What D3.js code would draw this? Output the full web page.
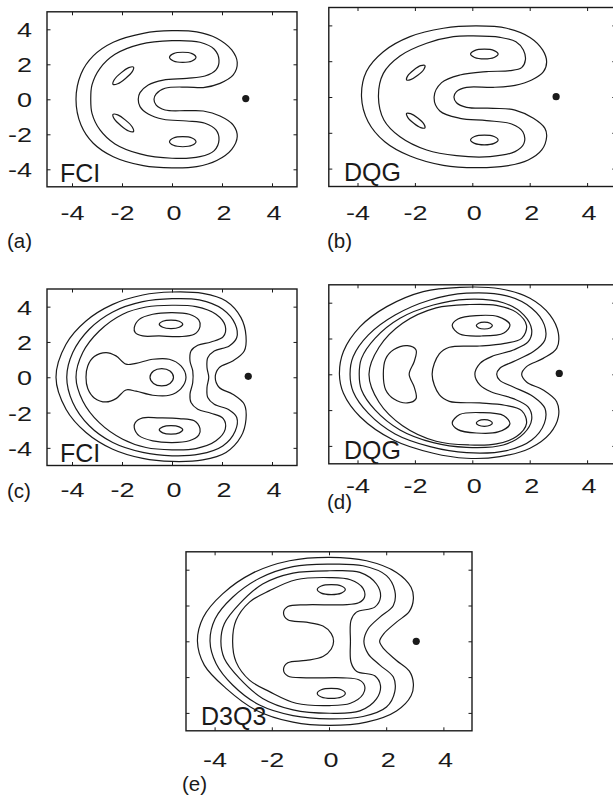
<!DOCTYPE html>
<html>
<head>
<meta charset="utf-8">
<script src="https://cdn.jsdelivr.net/npm/d3@7"></script>
<style>
    body { margin: 0; background: #fff; }
    svg { display: block; }
</style>
</head>
<body>
<svg id="chart"></svg>
<script>
const tick_values = [-4, -2, 0, 2, 4]
const axis_domain = [-5, 5]

// (a) FCI, contour lines (data units)
const a_outer = [[0,3.92],[0.99,3.85],[1.79,3.49],[2.39,2.82],[2.61,2.10],[2.45,1.39],[1.92,0.91],[1.25,0.67],[0.59,0.70],[-0.28,0.63],[-0.64,0.30],[-0.72,0],[-0.64,-0.32],[-0.28,-0.61],[0.59,-0.65],[1.25,-0.67],[1.92,-0.95],[2.45,-1.47],[2.61,-2.13],[2.39,-2.86],[1.79,-3.50],[0.99,-3.85],[0,-3.92],[-1.15,-3.79],[-2.35,-3.28],[-3.15,-2.51],[-3.64,-1.47],[-3.84,0],[-3.64,1.45],[-3.15,2.48],[-2.35,3.26],[-1.15,3.77]]
const a_middle = [[0,3.35],[1.12,3.26],[1.69,2.86],[1.88,2.25],[1.76,1.68],[1.32,1.33],[0.59,1.20],[-0.35,1.10],[-0.95,0.82],[-1.28,0.38],[-1.35,0],[-1.28,-0.42],[-0.95,-0.84],[-0.35,-1.14],[0.59,-1.24],[1.32,-1.37],[1.76,-1.75],[1.88,-2.32],[1.69,-2.93],[1.12,-3.28],[0,-3.37],[-1.28,-3.12],[-2.28,-2.55],[-2.88,-1.75],[-3.20,-0.80],[-3.25,0],[-3.20,0.82],[-2.88,1.77],[-2.28,2.57],[-1.28,3.14]]
const a_peak_ne = [[0.96,2.40],[0.80,2.61],[0.43,2.69],[0.06,2.61],[-0.10,2.40],[0.06,2.19],[0.43,2.11],[0.80,2.19]]
const a_peak_se = [[0.96,-2.42],[0.80,-2.21],[0.43,-2.13],[0.06,-2.21],[-0.10,-2.42],[0.06,-2.63],[0.43,-2.71],[0.80,-2.63]]
const a_peak_nw = [[-1.54,1.84],[-1.59,1.58],[-1.86,1.19],[-2.17,0.89],[-2.36,0.86],[-2.31,1.12],[-2.04,1.51],[-1.73,1.81]]
const a_peak_sw = [[-1.54,-1.84],[-1.59,-1.58],[-1.86,-1.19],[-2.17,-0.89],[-2.36,-0.86],[-2.31,-1.12],[-2.04,-1.51],[-1.73,-1.81]]
const a_dot = [2.95, 0.04]

// (b) DQG
const b_outer = [[0.15,3.97],[1.20,3.84],[2.01,3.33],[2.45,2.63],[2.59,1.97],[2.48,1.42],[2.07,0.95],[1.49,0.65],[0.73,0.54],[-0.20,0.54],[-0.55,0.30],[-0.64,0],[-0.55,-0.32],[-0.20,-0.58],[0.73,-0.63],[1.49,-0.73],[2.13,-1.19],[2.53,-1.75],[2.59,-2.22],[2.42,-2.96],[1.95,-3.52],[1.20,-3.85],[0.15,-3.95],[-1.01,-3.82],[-2.17,-3.30],[-3.05,-2.50],[-3.63,-1.38],[-3.86,0],[-3.69,1.42],[-3.10,2.53],[-2.17,3.37],[-1.01,3.84]]
const b_middle = [[0.03,3.41],[0.97,3.33],[1.52,3.09],[1.78,2.63],[1.85,2.07],[1.72,1.64],[1.31,1.47],[0.50,1.42],[-0.43,1.23],[-1.07,0.80],[-1.33,0],[-1.13,-0.78],[-0.43,-1.19],[0.50,-1.32],[1.37,-1.51],[1.76,-1.94],[1.80,-2.59],[1.49,-3.05],[0.62,-3.33],[-0.55,-3.28],[-1.59,-2.96],[-2.52,-2.22],[-3.08,-1.28],[-3.27,0],[-3.10,1.32],[-2.52,2.29],[-1.59,3.00],[-0.66,3.37]]
const b_peak_ne = [[0.90,2.40],[0.76,2.59],[0.42,2.67],[0.08,2.59],[-0.06,2.40],[0.08,2.21],[0.42,2.13],[0.76,2.21]]
const b_peak_se = [[0.90,-2.40],[0.76,-2.21],[0.42,-2.13],[0.08,-2.21],[-0.06,-2.40],[0.08,-2.59],[0.42,-2.67],[0.76,-2.59]]
const b_peak_nw = [[-1.65,1.76],[-1.69,1.54],[-1.90,1.21],[-2.15,0.97],[-2.29,0.96],[-2.25,1.18],[-2.04,1.51],[-1.80,1.75]]
const b_peak_sw = [[-1.65,-1.72],[-1.69,-1.50],[-1.90,-1.17],[-2.15,-0.93],[-2.29,-0.92],[-2.25,-1.14],[-2.04,-1.47],[-1.80,-1.71]]
const b_dot = [2.92, 0.02]

// (c) FCI
const c_level1 = [[0,4.83],[1.23,4.75],[2.16,4.32],[2.76,3.38],[2.96,2.34],[2.89,1.49],[2.43,0.92],[1.89,0.55],[1.73,0],[1.89,-0.58],[2.43,-0.96],[2.89,-1.53],[2.96,-2.38],[2.76,-3.36],[2.16,-4.26],[1.23,-4.68],[0,-4.77],[-1.17,-4.60],[-2.37,-4.08],[-3.44,-3.13],[-4.24,-1.81],[-4.64,0],[-4.24,1.87],[-3.44,3.19],[-2.37,4.13],[-1.17,4.66]]
const c_level2 = [[0,4.45],[1.09,4.38],[2.03,3.85],[2.53,3.00],[2.59,2.25],[2.29,1.77],[1.69,1.49],[1.43,1.11],[1.40,0.55],[1.47,0],[1.40,-0.58],[1.43,-1.15],[1.69,-1.53],[2.29,-1.85],[2.59,-2.28],[2.53,-3.04],[2.03,-3.89],[1.09,-4.36],[0,-4.45],[-1.17,-4.26],[-2.37,-3.70],[-3.31,-2.75],[-3.97,-1.43],[-4.21,0],[-3.97,1.40],[-3.31,2.72],[-2.37,3.70],[-1.17,4.28]]
const c_level3 = [[0,4.08],[0.96,4.00],[1.76,3.57],[2.13,2.91],[2.05,2.30],[1.56,2.00],[1.03,1.81],[0.76,1.49],[0.72,0.92],[0.83,0.36],[0.83,-0.30],[0.72,-0.96],[0.76,-1.43],[1.03,-1.81],[1.56,-2.04],[2.05,-2.34],[2.13,-2.94],[1.76,-3.60],[0.96,-4.04],[0,-4.11],[-1.04,-3.98],[-1.97,-3.51],[-2.91,-2.57],[-3.57,-1.34],[-3.84,0],[-3.57,1.40],[-2.91,2.62],[-1.97,3.57],[-1.04,3.98]]
const c_top = [[-1.51,2.81],[-1.31,3.28],[-0.77,3.57],[0,3.66],[0.69,3.57],[1.07,3.25],[1.12,2.87],[0.89,2.43],[0.29,2.30],[-0.51,2.34],[-1.17,2.34],[-1.47,2.53]]
const c_bottom = [[-1.51,-2.85],[-1.31,-3.32],[-0.77,-3.60],[0,-3.70],[0.69,-3.60],[1.07,-3.28],[1.12,-2.91],[0.89,-2.47],[0.29,-2.34],[-0.51,-2.30],[-1.17,-2.30],[-1.47,-2.57]]
const c_centre = [[-3.44,0],[-3.37,0.64],[-3.11,1.17],[-2.64,1.40],[-2.24,1.21],[-1.84,0.74],[-1.44,0.79],[-0.77,1.02],[-0.11,1.02],[0.36,0.64],[0.56,0],[0.36,-0.64],[-0.11,-1.02],[-0.77,-1.02],[-1.44,-0.79],[-1.84,-0.72],[-2.24,-1.21],[-2.64,-1.40],[-3.11,-1.17],[-3.37,-0.64]]
const c_peak_top = [[0.43,3.00],[0.29,3.17],[-0.04,3.24],[-0.37,3.17],[-0.51,3.00],[-0.37,2.83],[-0.04,2.76],[0.29,2.83]]
const c_peak_bottom = [[0.43,-2.98],[0.29,-2.81],[-0.04,-2.74],[-0.37,-2.81],[-0.51,-2.98],[-0.37,-3.15],[-0.04,-3.22],[0.29,-3.15]]
const c_peak_centre = [[0.06,0],[-0.08,0.35],[-0.41,0.49],[-0.74,0.35],[-0.88,0],[-0.74,-0.35],[-0.41,-0.49],[-0.08,-0.35]]
const c_dot = [3.05, 0.05]

// (d) DQG
const d_level1 = [[-0.43,4.86],[0.96,4.78],[2.01,4.25],[2.71,3.31],[3.00,2.29],[2.94,1.45],[2.47,0.89],[1.89,0.43],[1.72,0],[1.89,-0.43],[2.47,-0.88],[2.94,-1.53],[3.00,-2.37],[2.71,-3.30],[2.01,-4.13],[0.96,-4.60],[-0.20,-4.69],[-1.36,-4.41],[-2.75,-3.67],[-3.91,-2.37],[-4.49,-1.06],[-4.63,0],[-4.49,1.27],[-3.91,2.66],[-2.98,3.78],[-1.71,4.62]]
const d_level2 = [[-0.20,4.53],[1.20,4.38],[2.07,3.69],[2.51,2.76],[2.53,1.92],[2.13,1.27],[1.43,0.71],[0.96,0.34],[0.85,0],[0.96,-0.34],[1.43,-0.71],[2.13,-1.25],[2.53,-1.90],[2.51,-2.74],[2.07,-3.67],[1.20,-4.26],[-0.20,-4.38],[-1.47,-4.04],[-2.69,-3.33],[-3.62,-2.18],[-4.15,-0.97],[-4.26,0],[-4.15,0.99],[-3.62,2.20],[-2.69,3.31],[-1.47,4.15]]
const d_level3 = [[-0.20,4.19],[1.08,4.00],[1.80,3.31],[2.07,2.48],[1.95,1.82],[1.43,1.36],[0.67,0.99],[0.27,0.61],[0.09,0],[0.27,-0.61],[0.67,-0.99],[1.43,-1.36],[1.95,-1.84],[2.07,-2.51],[1.80,-3.30],[1.08,-3.95],[-0.20,-4.08],[-1.36,-3.82],[-2.52,-3.11],[-3.39,-1.99],[-3.86,-0.88],[-3.94,0],[-3.86,0.89],[-3.39,2.01],[-2.52,3.13],[-1.36,3.87]]
const d_level4 = [[-0.09,3.90],[0.84,3.85],[1.54,3.46],[1.89,2.72],[1.72,2.01],[1.13,1.73],[0.26,1.58],[-0.80,1.51],[-1.15,1.14],[-1.40,0],[-1.15,-1.14],[-0.80,-1.51],[0.26,-1.60],[1.13,-1.73],[1.72,-2.03],[1.89,-2.74],[1.54,-3.48],[0.84,-3.89],[-0.09,-3.95],[-1.26,-3.74],[-2.43,-2.87],[-3.25,-1.56],[-3.60,0],[-3.25,1.51],[-2.43,2.85],[-1.26,3.71]]
const d_top = [[-0.70,2.72],[-0.50,3.09],[0.14,3.28],[0.90,3.22],[1.31,2.77],[1.10,2.31],[0.32,2.14],[-0.44,2.25]]
const d_bottom = [[-0.70,-2.72],[-0.50,-3.09],[0.14,-3.28],[0.90,-3.22],[1.31,-2.77],[1.10,-2.31],[0.32,-2.14],[-0.44,-2.25]]
const d_left = [[-3.10,0],[-3.02,0.86],[-2.73,1.38],[-2.26,1.60],[-1.96,1.36],[-2.02,0.73],[-2.20,0],[-2.02,-0.73],[-1.96,-1.36],[-2.26,-1.60],[-2.73,-1.38],[-3.02,-0.86]]
const d_peak_top = [[0.70,2.72],[0.62,2.85],[0.42,2.91],[0.22,2.85],[0.14,2.72],[0.22,2.59],[0.42,2.53],[0.62,2.59]]
const d_peak_bottom = [[0.70,-2.72],[0.62,-2.59],[0.42,-2.53],[0.22,-2.59],[0.14,-2.72],[0.22,-2.85],[0.42,-2.91],[0.62,-2.85]]
const d_dot = [3.03, 0.05]

// (e) D3Q3
const e_level1 = [[0.02,4.69],[1.31,4.50],[2.36,3.85],[2.87,3.02],[2.95,2.37],[2.81,1.67],[2.36,1.07],[1.92,0.43],[1.77,0],[1.92,-0.43],[2.36,-1.07],[2.81,-1.67],[2.95,-2.37],[2.87,-3.04],[2.36,-3.89],[1.31,-4.52],[0.02,-4.70],[-1.26,-4.52],[-2.55,-3.85],[-3.60,-2.63],[-4.36,-1.33],[-4.60,0],[-4.40,1.33],[-3.72,2.65],[-2.67,3.81],[-1.38,4.50]]
const e_level2 = [[0.02,4.31],[1.19,4.22],[2.01,3.67],[2.30,2.83],[2.25,2.00],[1.78,1.35],[1.37,0.70],[1.22,0],[1.37,-0.70],[1.78,-1.33],[2.25,-2.00],[2.30,-2.81],[2.01,-3.67],[1.19,-4.20],[0.02,-4.33],[-1.26,-4.15],[-2.43,-3.56],[-3.37,-2.44],[-3.95,-1.24],[-4.16,0],[-3.98,1.26],[-3.37,2.46],[-2.43,3.52],[-1.26,4.17]]
const e_level3 = [[0.02,3.94],[1.08,3.85],[1.66,3.20],[1.80,2.46],[1.60,1.91],[0.96,1.63],[0.77,1.17],[0.75,0],[0.77,-1.17],[0.96,-1.67],[1.60,-1.93],[1.80,-2.48],[1.66,-3.22],[1.08,-3.89],[0.02,-4.02],[-1.26,-3.83],[-2.32,-3.19],[-3.13,-2.07],[-3.66,-0.96],[-3.78,0],[-3.66,0.98],[-3.13,2.09],[-2.32,3.20],[-1.26,3.81]]
const e_level4 = [[0.02,3.56],[0.75,3.44],[1.19,2.96],[1.24,2.46],[1.04,2.15],[0.49,2.04],[-0.80,2.04],[-1.44,1.94],[-1.59,1.59],[-1.44,1.20],[-0.80,1.07],[-0.21,0.85],[0.08,0.43],[0.16,0],[0.08,-0.43],[-0.21,-0.85],[-0.80,-1.07],[-1.44,-1.20],[-1.59,-1.59],[-1.44,-1.94],[-0.80,-2.04],[0.49,-2.04],[1.04,-2.15],[1.24,-2.46],[1.19,-2.96],[0.75,-3.46],[0.02,-3.59],[-1.15,-3.46],[-2.08,-2.81],[-2.78,-2.17],[-3.25,-1.15],[-3.37,0],[-3.25,1.17],[-2.78,2.19],[-2.08,2.83],[-1.15,3.44]]
const e_peak_top = [[0.57,2.89],[0.43,3.09],[0.08,3.17],[-0.27,3.09],[-0.41,2.89],[-0.27,2.69],[0.08,2.61],[0.43,2.69]]
const e_peak_bottom = [[0.57,-2.91],[0.43,-2.71],[0.08,-2.63],[-0.27,-2.71],[-0.41,-2.91],[-0.27,-3.11],[0.08,-3.19],[0.43,-3.11]]
const e_dot = [3.05, 0.0]

// panel layout (pixel frames and label spots)
const panels = [
    { tag: "(a)", method: "FCI", dot: a_dot, y_labels: true,
      contours: [a_outer, a_middle, a_peak_ne, a_peak_se, a_peak_nw, a_peak_sw],
      box: [47, 297, 11.8, 186.8], tick_base: 220.5, tag_at: [7, 247.5], method_at: [60, 182] },
    { tag: "(b)", method: "DQG", dot: b_dot, y_labels: false,
      contours: [b_outer, b_middle, b_peak_ne, b_peak_se, b_peak_nw, b_peak_sw],
      box: [328.8, 615.8, 7.5, 186.5], tick_base: 220.5, tag_at: [327, 247.5], method_at: [344, 180.5] },
    { tag: "(c)", method: "FCI", dot: c_dot, y_labels: true,
      contours: [c_level1, c_level2, c_level3, c_top, c_bottom, c_centre, c_peak_top, c_peak_bottom, c_peak_centre],
      box: [47, 297, 289, 465.5], tick_base: 497, tag_at: [7, 497.5], method_at: [60, 461.5] },
    { tag: "(d)", method: "DQG", dot: d_dot, y_labels: false,
      contours: [d_level1, d_level2, d_level3, d_level4, d_top, d_bottom, d_left, d_peak_top, d_peak_bottom],
      box: [328.8, 615.8, 284.8, 463.8], tick_base: 493, tag_at: [327, 509], method_at: [344, 459] },
    { tag: "(e)", method: "D3Q3", dot: e_dot, y_labels: false,
      contours: [e_level1, e_level2, e_level3, e_level4, e_peak_top, e_peak_bottom],
      box: [186, 472, 551.8, 730.8], tick_base: 767, tag_at: [182, 790.5], method_at: [201, 725] },
]

const ink = "#1a1a1a"
const font = "'Liberation Sans', Arial, Helvetica, sans-serif"
const stretch = 1.35

const svg = d3.select("#chart")
    .attr("width", 613)
    .attr("height", 796)

panels.forEach(draw_panel)

function draw_panel(p) {
    const [x0, x1, y0, y1] = p.box
    const x = d3.scaleLinear().domain(axis_domain).range([x0, x1])
    const y = d3.scaleLinear().domain(axis_domain).range([y1, y0])

    const g = svg.append("g")

    const line = d3.line()
        .x(d => x(d[0]))
        .y(d => y(d[1]))
        .curve(d3.curveCatmullRomClosed.alpha(0.5))

    g.selectAll("path.contour")
        .data(p.contours)
        .join("path")
        .attr("class", "contour")
        .attr("d", line)
        .attr("fill", "none")
        .attr("stroke", ink)
        .attr("stroke-width", 1.2)

    g.append("circle")
        .attr("cx", x(p.dot[0]))
        .attr("cy", y(p.dot[1]))
        .attr("r", 3.6)
        .attr("fill", ink)

    // ticks on all four sides, pointing inward
    const sides = [
        [d3.axisBottom(x), `translate(0,${y1})`],
        [d3.axisTop(x), `translate(0,${y0})`],
        [d3.axisLeft(y), `translate(${x0},0)`],
        [d3.axisRight(y), `translate(${x1},0)`],
    ]
    sides.forEach(([axis, tr], i) => {
        const ag = g.append("g")
            .attr("transform", tr)
            .call(axis.tickValues(tick_values).tickSizeInner(-3.5).tickSizeOuter(0).tickFormat(d => String(d)))
        ag.select(".domain").remove()
        ag.selectAll(".tick line").attr("stroke", ink).attr("stroke-width", 1)
        if (i === 0) {
            ag.selectAll("text")
                .attr("y", p.tick_base - y1)
                .attr("dy", null)
                .attr("x", d => d >= 0 ? 1.5 / stretch : 0)
                .attr("transform", `scale(${stretch},1)`)
                .attr("font-size", "20px")
                .attr("font-family", font)
                .attr("fill", ink)
        } else if (i === 2 && p.y_labels) {
            ag.selectAll("text")
                .attr("x", (32 - x0) / stretch)
                .attr("dy", "0.38em")
                .attr("transform", `scale(${stretch},1)`)
                .attr("font-size", "20px")
                .attr("font-family", font)
                .attr("fill", ink)
        } else {
            ag.selectAll("text").remove()
        }
    })

    g.append("rect")
        .attr("x", x0)
        .attr("y", y0)
        .attr("width", x1 - x0)
        .attr("height", y1 - y0)
        .attr("fill", "none")
        .attr("stroke", ink)
        .attr("stroke-width", 1.4)

    g.append("text")
        .attr("x", p.method_at[0])
        .attr("y", p.method_at[1])
        .text(p.method)
        .attr("font-family", font)
        .attr("font-size", "25px")
        .attr("fill", ink)

    svg.append("text")
        .attr("x", p.tag_at[0])
        .attr("y", p.tag_at[1])
        .text(p.tag)
        .attr("font-family", font)
        .attr("font-size", "20.5px")
        .attr("fill", ink)
}
</script>
</body>
</html>
